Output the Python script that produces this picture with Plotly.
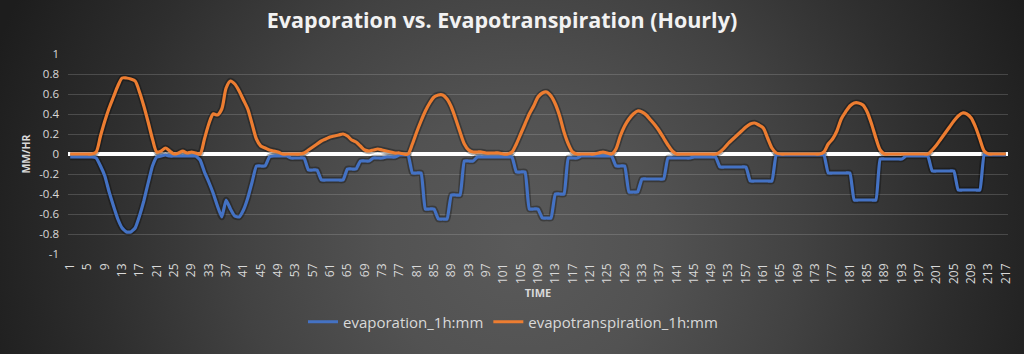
import base64
import plotly.graph_objects as go

# ---------------- data ----------------
hours = list(range(1, 218))

evapotranspiration = [
    0, 0, 0, 0, 0, 0, 0.02, 0.18, 0.33, 0.46,
    0.57, 0.68, 0.76, 0.76, 0.75, 0.73, 0.62, 0.48, 0.32, 0.15,
    0.02, 0.03, 0.06, 0.03, 0.0, 0.01, 0.03, 0.01, 0.02, 0.01,
    0.0, 0.15, 0.30, 0.40, 0.39, 0.45, 0.66, 0.73, 0.70, 0.63,
    0.54, 0.45, 0.30, 0.15, 0.08, 0.06, 0.04, 0.03, 0.02, 0.0,
    0, 0, 0, 0, 0.01, 0.04, 0.07, 0.10, 0.13, 0.15,
    0.17, 0.18, 0.19, 0.20, 0.18, 0.14, 0.12, 0.08, 0.04, 0.03,
    0.04, 0.05, 0.04, 0.03, 0.02, 0.01, 0.01, 0.0, 0.0, 0.10,
    0.22, 0.33, 0.43, 0.51, 0.57, 0.59, 0.59, 0.55, 0.47, 0.35,
    0.22, 0.10, 0.04, 0.02, 0.02, 0.02, 0.01, 0.01, 0.01, 0.01,
    0, 0, 0.02, 0.10, 0.20, 0.30, 0.40, 0.48, 0.57, 0.61,
    0.62, 0.58, 0.50, 0.38, 0.22, 0.10, 0.02, 0, 0, 0,
    0, 0, 0.01, 0.02, 0.01, 0, 0.05, 0.18, 0.28, 0.35,
    0.40, 0.43, 0.42, 0.39, 0.34, 0.29, 0.23, 0.16, 0.09, 0.03,
    0, 0, 0, 0, 0, 0, 0, 0, 0, 0,
    0.02, 0.06, 0.11, 0.15, 0.19, 0.23, 0.27, 0.30, 0.31, 0.29,
    0.26, 0.16, 0.06, 0.01, 0, 0, 0, 0, 0, 0,
    0, 0, 0, 0, 0.02, 0.10, 0.15, 0.23, 0.35, 0.42,
    0.48, 0.51, 0.51, 0.49, 0.42, 0.30, 0.16, 0.04, 0, 0,
    0, 0, 0, 0, 0, 0, 0, 0, 0, 0.04,
    0.09, 0.15, 0.21, 0.27, 0.33, 0.38, 0.41, 0.40, 0.36, 0.27,
    0.15, 0.03, 0, 0, 0, 0, 0,
]

evaporation = [
    -0.03, -0.03, -0.03, -0.03, -0.03, -0.03, -0.04, -0.12, -0.22, -0.38,
    -0.52, -0.65, -0.74, -0.78, -0.78, -0.74, -0.62, -0.47, -0.29, -0.12,
    -0.03, -0.02, -0.01, -0.02, -0.02, -0.02, -0.02, -0.02, -0.02, -0.02,
    -0.06, -0.18, -0.28, -0.39, -0.52, -0.63, -0.46, -0.55, -0.62, -0.63,
    -0.56, -0.44, -0.28, -0.12, -0.12, -0.12, -0.03, -0.02, -0.02, -0.02,
    -0.02, -0.04, -0.04, -0.04, -0.04, -0.16, -0.16, -0.16, -0.26, -0.26,
    -0.26, -0.26, -0.26, -0.26, -0.15, -0.15, -0.15, -0.07, -0.07, -0.07,
    -0.04, -0.04, -0.04, -0.03, -0.03, -0.03, -0.01, -0.01, -0.01, -0.19,
    -0.19, -0.19, -0.55, -0.55, -0.55, -0.65, -0.65, -0.65, -0.41, -0.41,
    -0.41, -0.07, -0.07, -0.07, -0.03, -0.03, -0.03, -0.03, -0.03, -0.03,
    -0.03, -0.03, -0.03, -0.18, -0.18, -0.18, -0.55, -0.55, -0.55, -0.64,
    -0.64, -0.64, -0.40, -0.40, -0.40, -0.04, -0.04, -0.04, -0.02, -0.02,
    -0.02, -0.02, -0.02, -0.02, -0.02, -0.02, -0.12, -0.12, -0.12, -0.38,
    -0.38, -0.38, -0.25, -0.25, -0.25, -0.25, -0.25, -0.25, -0.04, -0.04,
    -0.04, -0.04, -0.04, -0.04, -0.03, -0.03, -0.03, -0.03, -0.03, -0.03,
    -0.13, -0.13, -0.13, -0.13, -0.13, -0.13, -0.13, -0.27, -0.27, -0.27,
    -0.27, -0.27, -0.27, -0.01, -0.01, -0.01, -0.01, -0.01, -0.01, -0.01,
    -0.01, -0.01, -0.01, -0.01, -0.01, -0.19, -0.19, -0.19, -0.19, -0.19,
    -0.19, -0.46, -0.46, -0.46, -0.46, -0.46, -0.46, -0.05, -0.05, -0.05,
    -0.05, -0.05, -0.05, -0.02, -0.02, -0.02, -0.02, -0.02, -0.02, -0.17,
    -0.17, -0.17, -0.17, -0.17, -0.17, -0.36, -0.36, -0.36, -0.36, -0.36,
    -0.36, -0.01, -0.01, -0.01, -0.01, -0.01, -0.01,
]

x_tick_vals = list(range(1, 218, 4))
x_tick_text = [str(v) for v in x_tick_vals]
y_tick_vals = [1, 0.8, 0.6, 0.4, 0.2, 0, -0.2, -0.4, -0.6, -0.8, -1]
y_tick_text = ["1", "0.8", "0.6", "0.4", "0.2", "0", "-0.2", "-0.4", "-0.6", "-0.8", "-1"]

BLUE = "#4472C4"
ORANGE = "#ED7D31"
TXT = "#d9d9d9"
FONT = "Open Sans"

# ---------------- figure ----------------
W, H = 1024, 354
ML, MR, MT, MB = 68, 16, 54, 100
PW, PH = W - ML - MR, H - MT - MB

XR = [0.5, 217.5]
YR = [-1, 1]

fig = go.Figure()

# soft shadows drawn first (under the series)
for vals in (evaporation, evapotranspiration):
    fig.add_trace(go.Scatter(
        x=hours, y=vals, mode="lines",
        line=dict(color="rgba(0,0,0,0.30)", width=6.5, shape="spline", smoothing=0.6),
        showlegend=False, hoverinfo="skip"))

fig.add_trace(go.Scatter(
    x=hours, y=evaporation, mode="lines", name="evaporation_1h:mm",
    line=dict(color=BLUE, width=3.2, shape="spline", smoothing=0.4)))
fig.add_trace(go.Scatter(
    x=hours, y=evapotranspiration, mode="lines", name="evapotranspiration_1h:mm",
    line=dict(color=ORANGE, width=3.2, shape="spline", smoothing=0.8)))

# radial background
svg = f'''<svg xmlns="http://www.w3.org/2000/svg" width="{W}" height="{H}" viewBox="0 0 {W} {H}" preserveAspectRatio="none">
<defs><radialGradient id="g" cx="520" cy="245" r="560" gradientUnits="userSpaceOnUse">
<stop offset="0" stop-color="#5a5a5a"/>
<stop offset="0.25" stop-color="#525252"/>
<stop offset="0.5" stop-color="#424242"/>
<stop offset="0.75" stop-color="#2e2e2e"/>
<stop offset="1" stop-color="#1d1d1d"/>
</radialGradient></defs>
<rect width="{W}" height="{H}" fill="url(#g)"/></svg>'''
src = "data:image/svg+xml;base64," + base64.b64encode(svg.encode()).decode()

fig.add_layout_image(dict(
    source=src, xref="paper", yref="paper",
    x=-ML / PW, y=1 + MT / PH, sizex=W / PW, sizey=H / PH,
    xanchor="left", yanchor="top", sizing="stretch", layer="below"))

fig.update_layout(
    width=W, height=H,
    margin=dict(l=ML, r=MR, t=MT, b=MB, autoexpand=False),
    paper_bgcolor="#2a2a2a",
    plot_bgcolor="rgba(0,0,0,0)",
    font=dict(family=FONT, color=TXT),
    title=dict(text="<b>Evaporation vs. Evapotranspiration (Hourly)</b>",
               x=502 / W, xref="container", xanchor="center", y=1 - 20 / H, yanchor="middle",
               font=dict(size=21.5, color="#f2f2f2", family=FONT)),
    xaxis=dict(range=XR, tickmode="array", tickvals=x_tick_vals, ticktext=x_tick_text,
               tickangle=-90, tickfont=dict(size=12, color=TXT), showgrid=False,
               zeroline=False, showline=False, ticks="", ticklabelstandoff=6,
               title=dict(text="<b>TIME</b>", font=dict(size=11, color=TXT), standoff=6)),
    yaxis=dict(range=YR, tickmode="array", tickvals=y_tick_vals, ticktext=y_tick_text,
               tickfont=dict(size=11.5, color=TXT), showgrid=True,
               gridcolor="rgba(200,200,200,0.22)", gridwidth=1,
               zeroline=True, zerolinecolor="#ffffff", zerolinewidth=3.5,
               showline=False, ticks="", ticklabelstandoff=8,
               title=dict(text="<b>MM/HR</b>", font=dict(size=10.5, color=TXT), standoff=6)),
    legend=dict(orientation="h", x=(513 - ML) / PW, xanchor="center",
                y=-(322 - (H - MB)) / PH, yanchor="middle",
                font=dict(size=15, color=TXT), bgcolor="rgba(0,0,0,0)"),
    showlegend=True,
)

fig.write_html("out.html")
